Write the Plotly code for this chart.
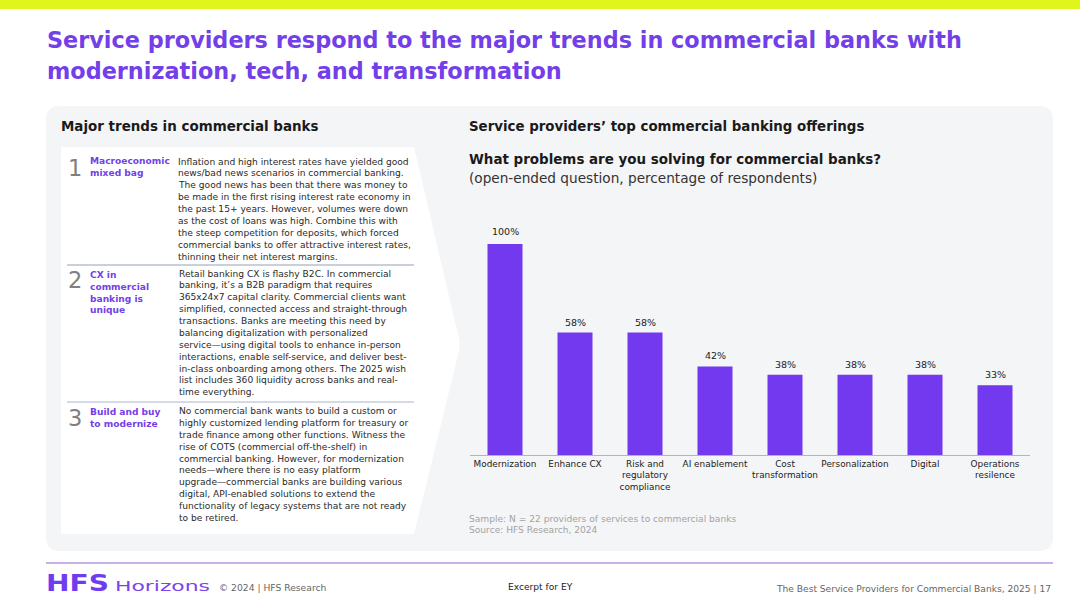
import plotly.graph_objects as go

W, H = 1080, 607
FONT = "DejaVu Sans"
PURPLE = "#7339ee"
HEAD_PURPLE = "#733fe8"

categories = ["Modernization", "Enhance CX", "Risk and<br>regulatory<br>compliance", "AI enablement",
              "Cost<br>transformation", "Personalization", "Digital", "Operations<br>resilence"]
percent_values = [100, 58, 58, 42, 38, 38, 38, 33]

title_lines = ["Service providers respond to the major trends in commercial banks with",
               "modernization, tech, and transformation"]
trend_numbers = ["1", "2", "3"]
trend_heads = ["Macroeconomic<br>mixed bag", "CX in<br>commercial<br>banking is<br>unique", "Build and buy<br>to modernize"]
trend_bodies = [
    ["Inflation and high interest rates have yielded good",
     "news/bad news scenarios in commercial banking.",
     "The good news has been that there was money to",
     "be made in the first rising interest rate economy in",
     "the past 15+ years. However, volumes were down",
     "as the cost of loans was high. Combine this with",
     "the steep competition for deposits, which forced",
     "commercial banks to offer attractive interest rates,",
     "thinning their net interest margins."],
    ["Retail banking CX is flashy B2C. In commercial",
     "banking, it’s a B2B paradigm that requires",
     "365x24x7 capital clarity. Commercial clients want",
     "simplified, connected access and straight-through",
     "transactions. Banks are meeting this need by",
     "balancing digitalization with personalized",
     "service—using digital tools to enhance in-person",
     "interactions, enable self-service, and deliver best-",
     "in-class onboarding among others. The 2025 wish",
     "list includes 360 liquidity across banks and real-",
     "time everything."],
    ["No commercial bank wants to build a custom or",
     "highly customized lending platform for treasury or",
     "trade finance among other functions. Witness the",
     "rise of COTS (commercial off-the-shelf) in",
     "commercial banking. However, for modernization",
     "needs—where there is no easy platform",
     "upgrade—commercial banks are building various",
     "digital, API-enabled solutions to extend the",
     "functionality of legacy systems that are not ready",
     "to be retired."],
]


def px(x):
    return x / W


def py(y):
    return 1 - y / H


def note(x, y, text, size, color="#222222", bold=False, xanchor="left", yanchor="middle", align="left"):
    return dict(x=px(x), y=py(y), xref="paper", yref="paper", text=f"<b>{text}</b>" if bold else text,
                showarrow=False, xanchor=xanchor, yanchor=yanchor, align=align, xshift=0, yshift=0,
                borderpad=0, font=dict(family=FONT, size=size, color=color))


def path(points, fill):
    d = ""
    for i, p in enumerate(points):
        if len(p) == 2:
            d += ("M" if i == 0 else "L") + f"{px(p[0])},{py(p[1])} "
        else:
            d += f"Q{px(p[0])},{py(p[1])} {px(p[2])},{py(p[3])} "
    return dict(type="path", xref="paper", yref="paper", path=d + "Z", fillcolor=fill,
                line=dict(width=0), layer="below")


def hline(x0, x1, y, color, width):
    return dict(type="line", xref="paper", yref="paper", x0=px(x0), x1=px(x1), y0=py(y), y1=py(y),
                line=dict(color=color, width=width), layer="below")


shapes = [
    dict(type="rect", xref="paper", yref="paper", x0=0, x1=1, y0=py(9), y1=1,
         fillcolor="#dff51c", line=dict(width=0), layer="below"),
    path([(60, 106), (1039, 106), (1053, 106, 1053, 120), (1053, 537), (1053, 551, 1039, 551),
          (60, 551), (46, 551, 46, 537), (46, 120), (46, 106, 60, 106)], "#f4f5f7"),
    path([(61, 147), (414, 147), (459, 339), (460, 345, 459, 351), (414, 534), (61, 534)], "#ffffff"),
    hline(67, 414, 265, "#b7c1cc", 1.3),
    hline(67, 414, 402, "#a9b6cc", 1),
    hline(46, 1053, 563, "#8f63cc", 1),
]

annotations = []
for i, line in enumerate(title_lines):
    annotations.append(note(46, 40.5 + i * 30, line, 22.37, HEAD_PURPLE, bold=True))
annotations += [
    note(60, 126, "Major trends in commercial banks", 13.45, "#1a1a1a", bold=True),
    note(468, 126, "Service providers’ top commercial banking offerings", 13.37, "#1a1a1a", bold=True),
    note(468, 160, "What problems are you solving for commercial banks?", 13.45, "#1a1a1a", bold=True),
    note(468, 178, "(open-ended question, percentage of respondents)", 13.65, "#333333"),
    note(468, 519, "Sample: N = 22 providers of services to commercial banks", 9.1, "#a3a3a3"),
    note(468, 530, "Source: HFS Research, 2024", 9.1, "#a3a3a3"),
    note(45, 582.5, "HFS", 23, "#6f3cf0", bold=True),
    note(114, 586, "Horizons", 14, "#7a45ea"),
    note(218, 587, "© 2024 | HFS Research", 9.2, "#666666"),
    note(507, 587, "Excerpt for EY", 9.1, "#222222"),
    note(1052, 589, "The Best Service Providers for Commercial Banks, 2025 | 17", 9.1, "#666666", xanchor="right"),
]

number_y = [168, 280, 418]
head_y = [155.5, 268.5, 406]
body_x = [177, 178, 178]
body_y = [161.5, 273.5, 411]
for i in range(3):
    annotations.append(note(67, number_y[i], trend_numbers[i], 22.5, "#808080"))
    annotations.append(note(89, head_y[i], trend_heads[i], 9.1, HEAD_PURPLE, bold=True, yanchor="top"))
    for j, line in enumerate(trend_bodies[i]):
        annotations.append(note(body_x[i], body_y[i] + j * 11.88, line, 9.1, "#2a2a2a"))

for cat, val in zip(categories, percent_values):
    annotations.append(dict(x=cat, y=val, xref="x", yref="y", text=f"{val}%", showarrow=False,
                            xanchor="center", yanchor="bottom", yshift=6 if val == 100 else 4, borderpad=0,
                            font=dict(family=FONT, size=9.5, color="#222222")))

fig = go.Figure(go.Bar(
    x=categories, y=percent_values, marker=dict(color=PURPLE, line=dict(width=0)), width=0.5,
    cliponaxis=False, hoverinfo="skip"))

fig.update_layout(
    width=W, height=H, autosize=False, margin=dict(l=0, r=0, t=0, b=0),
    paper_bgcolor="#ffffff", plot_bgcolor="rgba(0,0,0,0)", showlegend=False,
    font=dict(family=FONT), shapes=shapes, annotations=annotations,
    xaxis=dict(domain=[px(470), px(1030)], type="category", tickangle=0, showgrid=False, ticks="",
               showline=True, linecolor="#b5b5b5", linewidth=1, automargin=False,
               tickfont=dict(family=FONT, size=8.9, color="#222222")),
    yaxis=dict(domain=[py(455), py(244)], range=[0, 100], visible=False, fixedrange=True),
)

stretch_logo = """
document.body.style.margin='0';
document.querySelectorAll('.annotation-text').forEach(function (t) {
  var s = t.textContent;
  var len = s === 'HFS' ? 63 : (s === 'Horizons' ? 95 : 0);
  if (len) { t.setAttribute('textLength', len); t.setAttribute('lengthAdjust', 'spacingAndGlyphs'); }
});
"""
fig.write_html("out.html", post_script=stretch_logo, config=dict(displayModeBar=False))
